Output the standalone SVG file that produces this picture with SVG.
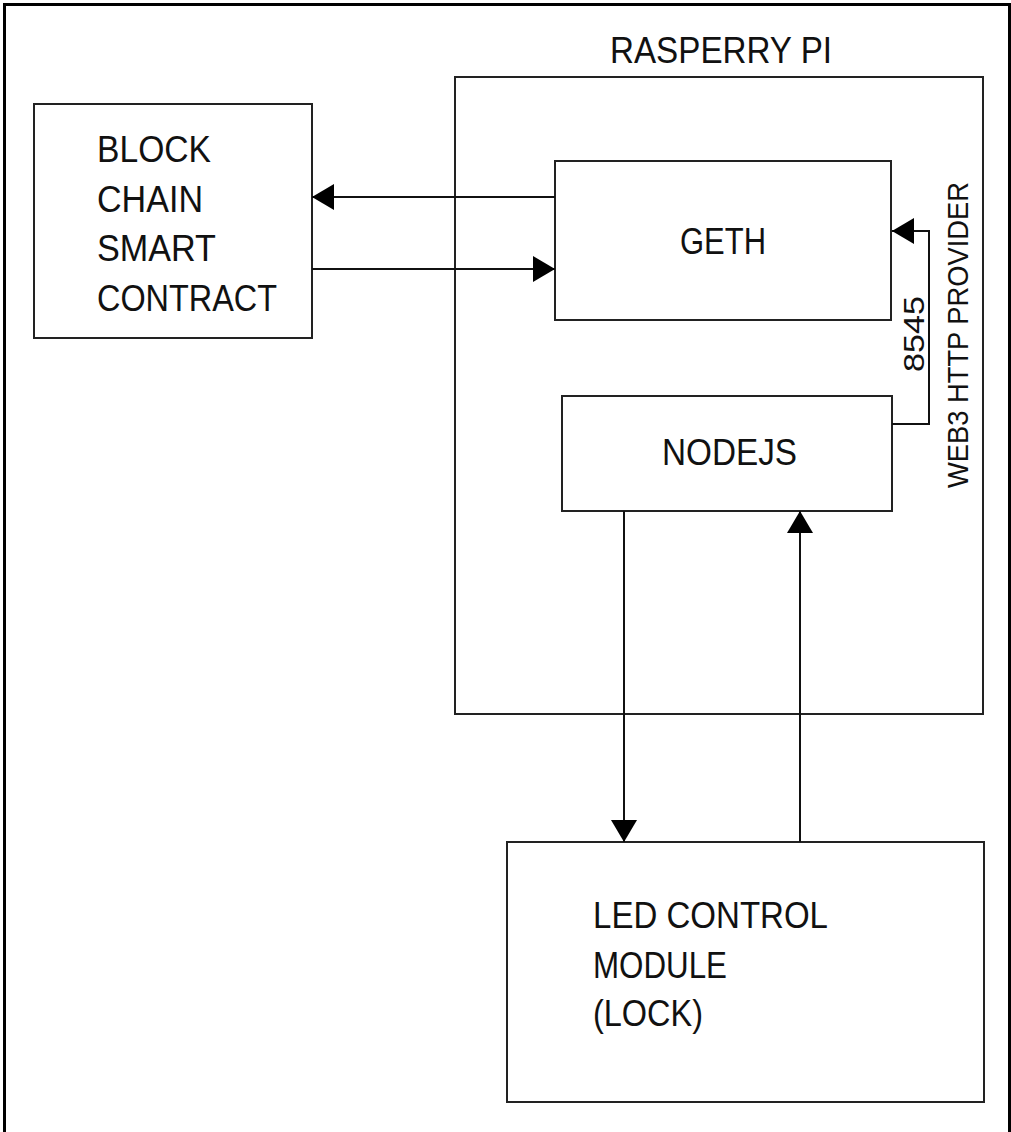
<svg xmlns="http://www.w3.org/2000/svg" width="1011" height="1132" viewBox="0 0 1011 1132">
<defs>
<style>
.box{fill:#fff;stroke:#222;stroke-width:2}
.t{font-family:"Liberation Sans",Arial,sans-serif;font-size:37.5px;fill:#111}
.s{font-family:"Liberation Sans",Arial,sans-serif;font-size:29px;fill:#111}
.c{fill:none;stroke:#111;stroke-width:2}
</style>
<marker id="ah" markerUnits="userSpaceOnUse" markerWidth="22" markerHeight="26" refX="22" refY="13" orient="auto">
<path d="M0,0 L22,13 L0,26 z" fill="#000"/>
</marker>
</defs>
<rect width="1011" height="1132" fill="#fff"/>
<path d="M4.5,1132 V4.5 H1009.5 V1132" fill="none" stroke="#000" stroke-width="3"/>

<g id="raspberry">
<rect class="box" x="455" y="77" width="528" height="637"/>
<text class="t" x="610" y="63" textLength="222" lengthAdjust="spacingAndGlyphs">RASPERRY PI</text>
</g>

<g id="blockchain">
<rect class="box" x="34" y="104" width="278" height="234"/>
<text class="t" x="97" y="162" textLength="114" lengthAdjust="spacingAndGlyphs">BLOCK</text>
<text class="t" x="97" y="212" textLength="106" lengthAdjust="spacingAndGlyphs">CHAIN</text>
<text class="t" x="97" y="261" textLength="119" lengthAdjust="spacingAndGlyphs">SMART</text>
<text class="t" x="97" y="311" textLength="180" lengthAdjust="spacingAndGlyphs">CONTRACT</text>
</g>

<g id="geth">
<rect class="box" x="555" y="161" width="336" height="159"/>
<text class="t" x="680" y="254" textLength="86" lengthAdjust="spacingAndGlyphs">GETH</text>
</g>

<g id="nodejs">
<rect class="box" x="562" y="396" width="330" height="115"/>
<text class="t" x="662" y="465" textLength="135" lengthAdjust="spacingAndGlyphs">NODEJS</text>
</g>

<g id="led">
<rect class="box" x="507" y="842" width="477" height="260"/>
<text class="t" x="593" y="928" textLength="235" lengthAdjust="spacingAndGlyphs">LED CONTROL</text>
<text class="t" x="593" y="978" textLength="134" lengthAdjust="spacingAndGlyphs">MODULE</text>
<text class="t" x="593" y="1026" textLength="110" lengthAdjust="spacingAndGlyphs">(LOCK)</text>
</g>

<g id="connectors">
<path class="c" d="M555,197 H312" marker-end="url(#ah)"/>
<path class="c" d="M312,269 H555" marker-end="url(#ah)"/>
<path class="c" d="M892,424 H929 V231 H892" marker-end="url(#ah)"/>
<path class="c" d="M624,511 V842" marker-end="url(#ah)"/>
<path class="c" d="M800,842 V511" marker-end="url(#ah)"/>
<text class="s" transform="translate(924,372) rotate(-90)" textLength="76" lengthAdjust="spacingAndGlyphs">8545</text>
<text class="s" transform="translate(968,488) rotate(-90)" textLength="306" lengthAdjust="spacingAndGlyphs">WEB3 HTTP PROVIDER</text>
</g>
</svg>
